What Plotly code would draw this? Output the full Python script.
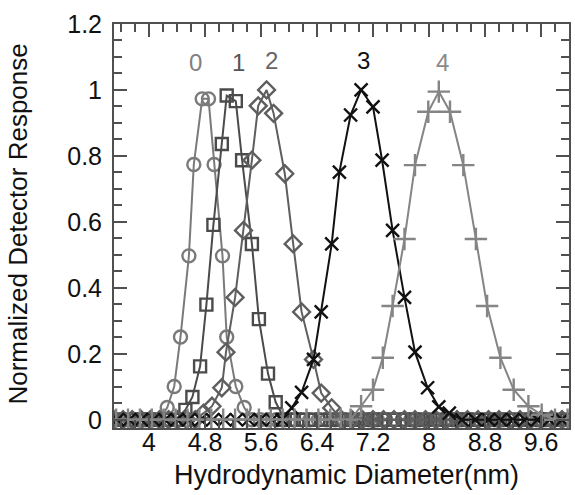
import numpy as np
import plotly.graph_objects as go

# Peak regions of the five size-exclusion traces (diameter in nm, normalized response)
d0_x = [4.26, 4.36, 4.45, 4.57, 4.64, 4.76, 4.85, 4.93, 5.05, 5.11, 5.24, 5.36]
d0_y = [0.037, 0.101, 0.251, 0.497, 0.774, 0.973, 0.973, 0.774, 0.497, 0.251, 0.101, 0.037]

d1_x = [4.52, 4.62, 4.73, 4.82, 4.92, 5.04, 5.11, 5.24, 5.33, 5.47, 5.57, 5.70, 5.81]
d1_y = [0.030, 0.069, 0.162, 0.349, 0.591, 0.836, 0.983, 0.966, 0.787, 0.533, 0.305, 0.140, 0.053]

d2_x = [4.78, 4.90, 5.04, 5.10, 5.23, 5.35, 5.47, 5.56, 5.68, 5.78, 5.94, 6.06, 6.18, 6.35, 6.46, 6.61]
d2_y = [0.020, 0.041, 0.097, 0.205, 0.371, 0.574, 0.787, 0.952, 1.000, 0.929, 0.746, 0.533, 0.327, 0.183, 0.081, 0.036]

d3_x = [6.04, 6.18, 6.35, 6.46, 6.61, 6.72, 6.88, 7.03, 7.20, 7.33, 7.48, 7.65, 7.80, 7.98, 8.14, 8.29]
d3_y = [0.036, 0.083, 0.183, 0.327, 0.533, 0.751, 0.924, 1.000, 0.949, 0.787, 0.574, 0.371, 0.205, 0.097, 0.039, 0.020]

d4_x = [7.03, 7.20, 7.34, 7.48, 7.65, 7.80, 7.99, 8.14, 8.30, 8.49, 8.67, 8.83, 9.02, 9.21, 9.42, 9.61]
d4_y = [0.041, 0.091, 0.188, 0.345, 0.548, 0.772, 0.934, 0.995, 0.934, 0.772, 0.548, 0.345, 0.188, 0.091, 0.041, 0.015]

# Baseline samples (response 0) outside each peak
z0_x = [3.51, 3.62, 3.73, 3.84, 3.95, 4.05, 4.15,
        5.47, 5.59, 5.70, 5.82, 5.94, 6.06, 6.18, 6.30, 6.42, 6.54, 6.66, 6.78, 6.90,
        7.02, 7.14, 7.26, 7.38, 7.50, 7.62, 7.74, 7.86, 7.98, 8.10, 8.22, 8.34, 8.46,
        8.58, 8.70, 8.82, 8.94, 9.06, 9.18, 9.30, 9.42, 9.54, 9.66, 9.78, 9.90, 10.0]
z1_x = [3.52, 3.64, 3.76, 3.88, 4.00, 4.12, 4.24, 4.38,
        5.94, 6.07, 6.20, 6.33, 6.46, 6.59, 6.72, 6.85, 6.98, 7.11, 7.24, 7.37, 7.50,
        7.63, 7.76, 7.89, 8.02, 8.15, 8.28, 8.41, 8.54, 8.67, 8.80, 8.93, 9.06, 9.19,
        9.32, 9.45, 9.58, 9.71, 9.84, 9.97]
z2_x = [3.50, 3.63, 3.76, 3.89, 4.02, 4.15, 4.28, 4.41, 4.54, 4.66,
        6.75, 6.90, 7.05, 7.20, 7.35, 7.50, 7.65, 7.80, 7.95, 8.10, 8.25, 8.40, 8.55,
        8.70, 8.85, 9.00, 9.15, 9.30, 9.45, 9.60, 9.75, 9.90]
z3_x = [3.55, 3.72, 3.89, 4.06, 4.23, 4.40, 4.57, 4.74, 4.91, 5.08, 5.25, 5.42,
        5.59, 5.76, 5.90,
        8.47, 8.66, 8.85, 9.02, 9.20, 9.37, 9.55, 9.72, 9.90]
z4_x = [3.53, 3.70, 3.87, 4.04, 4.21, 4.38, 4.55, 4.72, 4.89, 5.06, 5.23, 5.40,
        5.57, 5.74, 5.91, 6.08, 6.25, 6.42, 6.59, 6.74, 6.88,
        9.80, 9.98]

labels = ["0", "1", "2", "3", "4"]
label_x = [4.67, 5.28, 5.75, 7.06, 8.19]
label_y = [1.084, 1.084, 1.088, 1.088, 1.084]

peaks_x = [d0_x, d1_x, d2_x, d3_x, d4_x]
peaks_y = [d0_y, d1_y, d2_y, d3_y, d4_y]
zeros_x = [z0_x, z1_x, z2_x, z3_x, z4_x]

line_colors = ["#7a7a7a", "#4b4b4b", "#5e5e5e", "#111111", "#858585"]
label_colors = ["#808080", "#555555", "#666666", "#111111", "#8a8a8a"]
symbols = ["circle-open", "square-open", "diamond-open", "x-thin-open", "cross-thin-open"]
sizes = [13, 12, 13, 13, 16]

fig = go.Figure()
for px, py, zx, col, sym, sz in zip(peaks_x, peaks_y, zeros_x, line_colors, symbols, sizes):
    xs = np.array(list(px) + list(zx), dtype=float)
    ys = np.array(list(py) + [0.0] * len(zx), dtype=float)
    order = np.argsort(xs)
    fig.add_trace(go.Scatter(
        x=xs[order], y=ys[order], mode="lines+markers",
        line=dict(color=col, width=2),
        marker=dict(symbol=sym, size=sz, color=col, line=dict(color=col, width=2.4)),
        showlegend=False,
    ))

for t, x, y, c in zip(labels, label_x, label_y, label_colors):
    fig.add_annotation(x=x, y=y, text=t, showarrow=False,
                       font=dict(size=24, color=c))

fig.add_annotation(xref="paper", yref="paper", x=0.51, y=-0.116,
                   xanchor="center", yanchor="middle",
                   text="Hydrodynamic Diameter(nm)", showarrow=False,
                   font=dict(size=27, color="#111111"))
fig.add_annotation(xref="paper", yref="paper", x=-0.212, y=0.505,
                   xanchor="center", yanchor="middle",
                   text="Normalized Detector Response", showarrow=False, textangle=-90,
                   font=dict(size=26, color="#111111"))

axis_common = dict(
    showline=True, linecolor="#505050", linewidth=2, mirror="ticks",
    ticks="inside", ticklen=13, tickwidth=2, tickcolor="#505050",
    showgrid=False, zeroline=False,
    tickfont=dict(size=25, color="#111111"),
)

fig.update_xaxes(range=[3.5, 10.0], tick0=4, dtick=0.8, ticklabelstandoff=-9,
                 minor=dict(dtick=0.2, ticks="inside", ticklen=8, tickwidth=2, tickcolor="#505050"),
                 **axis_common)
fig.update_yaxes(range=[-0.025, 1.2], tick0=0, dtick=0.2, ticklabelstandoff=5,
                 minor=dict(dtick=0.05, ticks="inside", ticklen=8, tickwidth=2, tickcolor="#505050"),
                 **axis_common)

fig.update_layout(
    width=575, height=495,
    margin=dict(l=114, r=4, t=24, b=67),
    paper_bgcolor="white", plot_bgcolor="white",
    font=dict(family="Liberation Sans, Arial, sans-serif", color="#111111"),
)

fig.write_html("out.html")
